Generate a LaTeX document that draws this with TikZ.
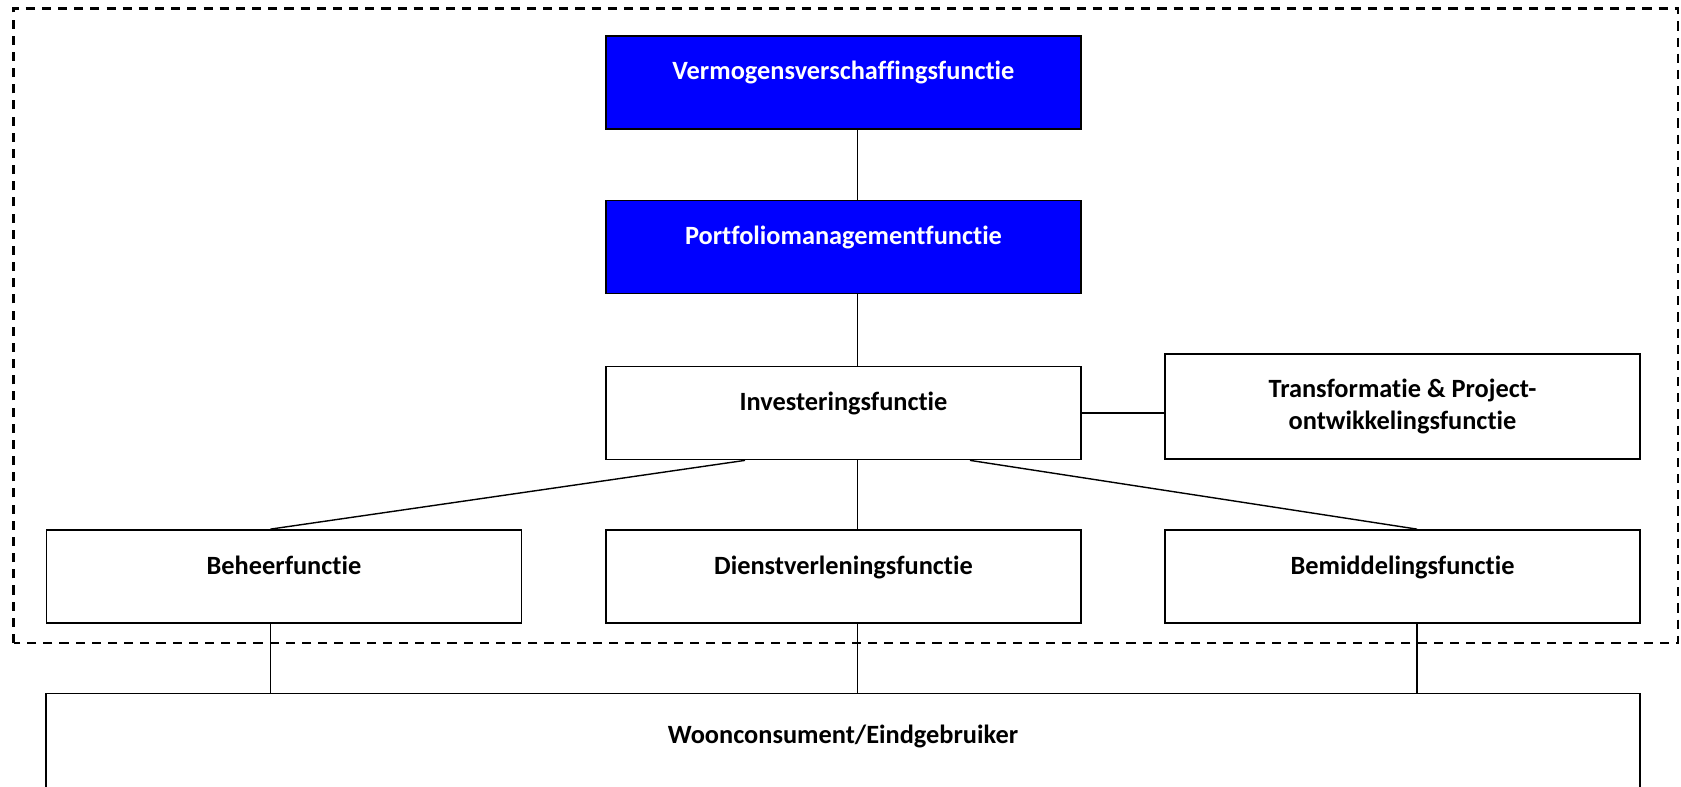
\documentclass[tikz,border=0pt]{standalone}
\usepackage{fontspec}
\setmainfont{Carlito}[Ligatures={NoCommon}]
\usepackage{tikz}

\tikzset{
  fn/.style={draw, line width=1pt, minimum width=9.5cm, minimum height=1.86cm,
    font=\fontsize{15}{18.5}\selectfont\bfseries, text height=4mm, text depth=5mm, align=center},
  top/.style={fn, fill=blue, text=white},
  link/.style={line width=0.8pt},
  frame/.style={line width=1.4pt, dash pattern=on 5.2pt off 4pt}
}

\begin{document}
\begin{tikzpicture}
  \useasboundingbox (0,0) rectangle (33.62,15.72);
  \draw[frame] (0.27,2.86) rectangle (33.56,15.55);
  \node[top] (verm) at (16.87, 14.07) {Vermogensverschaffingsfunctie};
  \node[top] (port) at (16.87, 10.78) {Portfoliomanagementfunctie};
  \node[fn] (inv) at (16.87, 7.46) {Investeringsfunctie};
  \node[fn, minimum height=2.1cm, text height=, text depth=] (trans) at (28.05, 7.59) {Transformatie \& Project-\\ontwikkelingsfunctie};
  \node[fn] (beheer) at (5.68, 4.19) {Beheerfunctie};
  \node[fn] (dienst) at (16.87, 4.19) {Dienstverleningsfunctie};
  \node[fn] (bemid) at (28.05, 4.19) {Bemiddelingsfunctie};
  \node[fn, minimum width=31.88cm, minimum height=2.1cm] (woon) at (16.86, 0.8) {Woonconsument/Eindgebruiker};
  \coordinate (trunk) at (17.15, 0);
  \coordinate (lft) at (5.41, 0);
  \coordinate (rgt) at (28.34, 0);
  \coordinate (slantl) at (14.9, 0);
  \coordinate (slantr) at (19.4, 0);
  \draw[link] (verm.south -| trunk) -- (port.north -| trunk);
  \draw[link] (port.south -| trunk) -- (inv.north -| trunk);
  \draw[link] (inv.east) -- (inv.east -| trans.west);
  \draw[link] (inv.south -| slantl) -- (beheer.north -| lft);
  \draw[link] (inv.south -| trunk) -- (dienst.north -| trunk);
  \draw[link] (inv.south -| slantr) -- (bemid.north -| rgt);
  \draw[link] (beheer.south -| lft) -- (woon.north -| lft);
  \draw[link] (dienst.south -| trunk) -- (woon.north -| trunk);
  \draw[link] (bemid.south -| rgt) -- (woon.north -| rgt);
\end{tikzpicture}
\end{document}
